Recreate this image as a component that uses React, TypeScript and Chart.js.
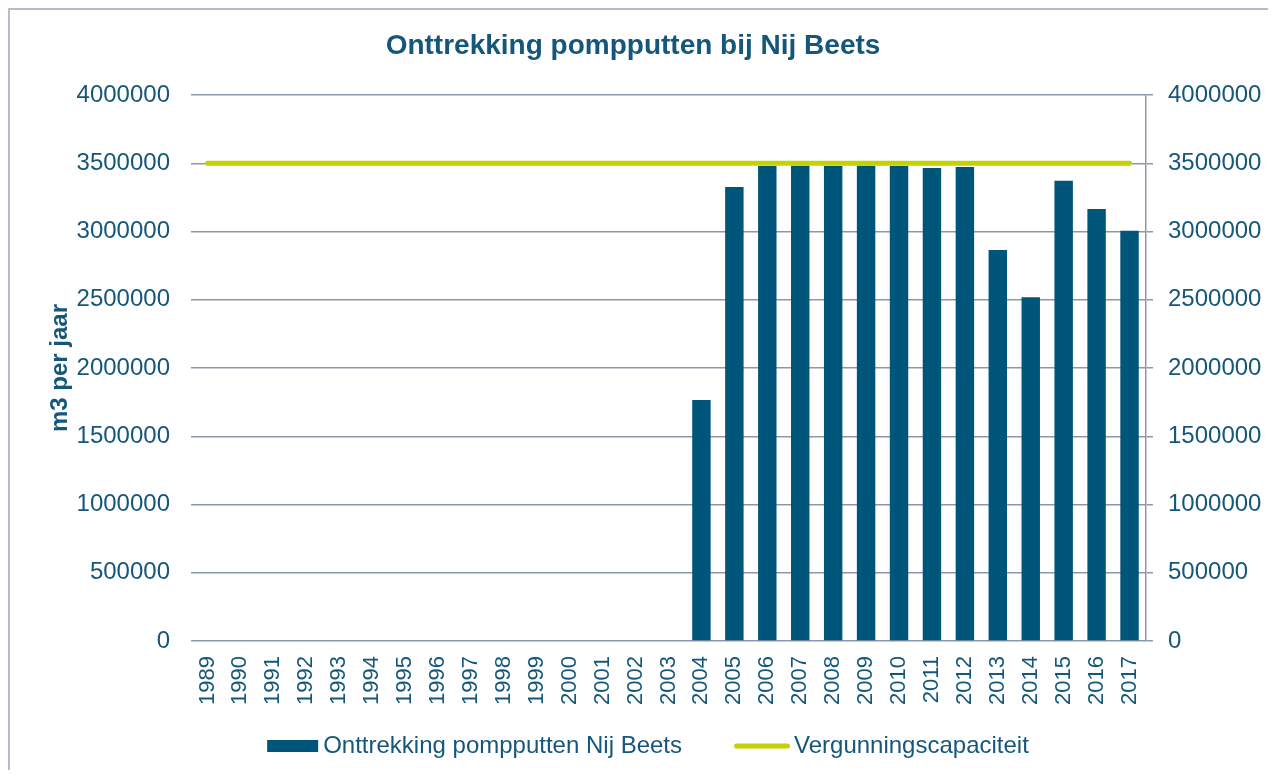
import React, { useEffect, useRef } from "react";
import { Chart, registerables } from "chart.js";

Chart.register(...registerables);

const years = [
  "1989", "1990", "1991", "1992", "1993", "1994", "1995", "1996", "1997", "1998",
  "1999", "2000", "2001", "2002", "2003", "2004", "2005", "2006", "2007", "2008",
  "2009", "2010", "2011", "2012", "2013", "2014", "2015", "2016", "2017",
];

const withdrawal = [
  0, 0, 0, 0, 0, 0, 0, 0, 0, 0,
  0, 0, 0, 0, 0, 1765000, 3326000, 3480000, 3482000, 3480000,
  3481000, 3480000, 3465000, 3472000, 2864000, 2518000, 3372000, 3165000, 3006000,
];

const permitCapacity = [
  3500000, 3500000, 3500000, 3500000, 3500000, 3500000, 3500000, 3500000, 3500000, 3500000,
  3500000, 3500000, 3500000, 3500000, 3500000, 3500000, 3500000, 3500000, 3500000, 3500000,
  3500000, 3500000, 3500000, 3500000, 3500000, 3500000, 3500000, 3500000, 3500000,
];

const yTickValues = [0, 500000, 1000000, 1500000, 2000000, 2500000, 3000000, 3500000, 4000000];

const TITLE = "Onttrekking pompputten bij Nij Beets";
const Y_TITLE = "m3 per jaar";
const BAR_LABEL = "Onttrekking pompputten Nij Beets";
const LINE_LABEL = "Vergunningscapaciteit";

const TEXT = "#15577a";
const BAR = "#00557b";
const LINE = "#c3d200";
const GRID = "#8d97aa";
const FONT = "'Liberation Sans', Arial, sans-serif";

// Custom legend drawn below the x-axis labels
const legendPlugin = {
  id: "customLegend",
  afterDraw(chart: any) {
    const ctx = chart.ctx as CanvasRenderingContext2D;
    const ds = chart.data.datasets;
    const bar = ds.find((d: any) => d.type === "bar");
    const line = ds.find((d: any) => d.type === "line");
    ctx.save();
    ctx.font = `24px ${FONT}`;
    ctx.textBaseline = "middle";
    ctx.textAlign = "left";
    const boxW = 51;
    const lineW = 56;
    const w1 = ctx.measureText(bar.label).width;
    const w2 = ctx.measureText(line.label).width;
    const total = boxW + 5 + w1 + 52 + lineW + 4 + w2;
    let x = chart.width / 2 + 9 - total / 2;
    const y = chart.height - 24;
    ctx.fillStyle = bar.backgroundColor;
    ctx.fillRect(x, y - 6, boxW, 12);
    x += boxW + 5;
    ctx.fillStyle = TEXT;
    ctx.fillText(bar.label, x, y);
    x += w1 + 52;
    ctx.strokeStyle = line.borderColor;
    ctx.lineWidth = 5;
    ctx.lineCap = "round";
    ctx.beginPath();
    ctx.moveTo(x + 2.5, y);
    ctx.lineTo(x + lineW - 2.5, y);
    ctx.stroke();
    x += lineW + 4;
    ctx.fillText(line.label, x, y);
    ctx.restore();
  },
};

export default function App() {
  const ref = useRef<HTMLCanvasElement | null>(null);

  useEffect(() => {
    if (!ref.current) return;
    const yMin = yTickValues[0];
    const yMax = yTickValues[yTickValues.length - 1];
    const step = yTickValues[1] - yTickValues[0];
    const chart = new Chart(ref.current, {
      type: "bar",
      data: {
        labels: years,
        datasets: [
          {
            type: "line",
            label: LINE_LABEL,
            data: permitCapacity,
            borderColor: LINE,
            backgroundColor: LINE,
            borderWidth: 5,
            borderCapStyle: "round",
            pointRadius: 0,
            pointHoverRadius: 0,
            yAxisID: "y",
            order: 0,
          } as any,
          {
            type: "bar",
            label: BAR_LABEL,
            data: withdrawal,
            backgroundColor: BAR,
            borderWidth: 0,
            categoryPercentage: 1,
            barPercentage: 0.56,
            yAxisID: "y",
            order: 1,
          } as any,
        ],
      },
      options: {
        responsive: false,
        animation: false,
        layout: { padding: { left: -12, right: 0, top: 0, bottom: 61 } },
        plugins: {
          title: {
            display: true,
            text: TITLE,
            color: TEXT,
            font: { family: FONT, size: 28, weight: "bold" },
            padding: { top: 19.2, bottom: 32.2 },
          },
          legend: { display: false },
          tooltip: { enabled: false },
        },
        scales: {
          x: {
            offset: true,
            grid: { display: false, drawTicks: false },
            border: { display: false },
            ticks: {
              autoSkip: false,
              minRotation: 90,
              maxRotation: 90,
              padding: 15,
              color: TEXT,
              font: { family: FONT, size: 22 },
            },
            afterFit: (s: any) => {
              s.height = 68;
            },
          },
          y: {
            position: "left",
            min: yMin,
            max: yMax,
            grid: { color: GRID, lineWidth: 1.5, drawTicks: false },
            border: { display: false },
            ticks: {
              stepSize: step,
              padding: 21,
              color: TEXT,
              font: { family: FONT, size: 24 },
              callback: (v: any) => String(v),
            },
            title: {
              display: true,
              text: Y_TITLE,
              color: TEXT,
              font: { family: FONT, size: 24, weight: "bold" },
              padding: { top: 47.6, bottom: 0 },
            },
            afterFit: (s: any) => {
              s.width = 193;
            },
          },
          y2: {
            position: "right",
            min: yMin,
            max: yMax,
            grid: { drawOnChartArea: false, drawTicks: true, tickLength: 7, color: GRID, lineWidth: 1.5 },
            border: { display: true, color: GRID, width: 1.5 },
            ticks: {
              stepSize: step,
              padding: 15,
              color: TEXT,
              font: { family: FONT, size: 24 },
              callback: (v: any) => String(v),
            },
            afterFit: (s: any) => {
              s.width = 122;
            },
          },
        },
      } as any,
      plugins: [legendPlugin],
    });
    return () => chart.destroy();
  }, []);

  return (
    <div
      style={{
        width: 1258,
        height: 760,
        borderTop: "2px solid #b4bccb",
        borderLeft: "2px solid #b4bccb",
        borderRight: "2px solid #b4bccb",
        background: "#fff",
      }}
    >
      <canvas ref={ref} width={1258} height={760} style={{ display: "block" }} />
    </div>
  );
}
